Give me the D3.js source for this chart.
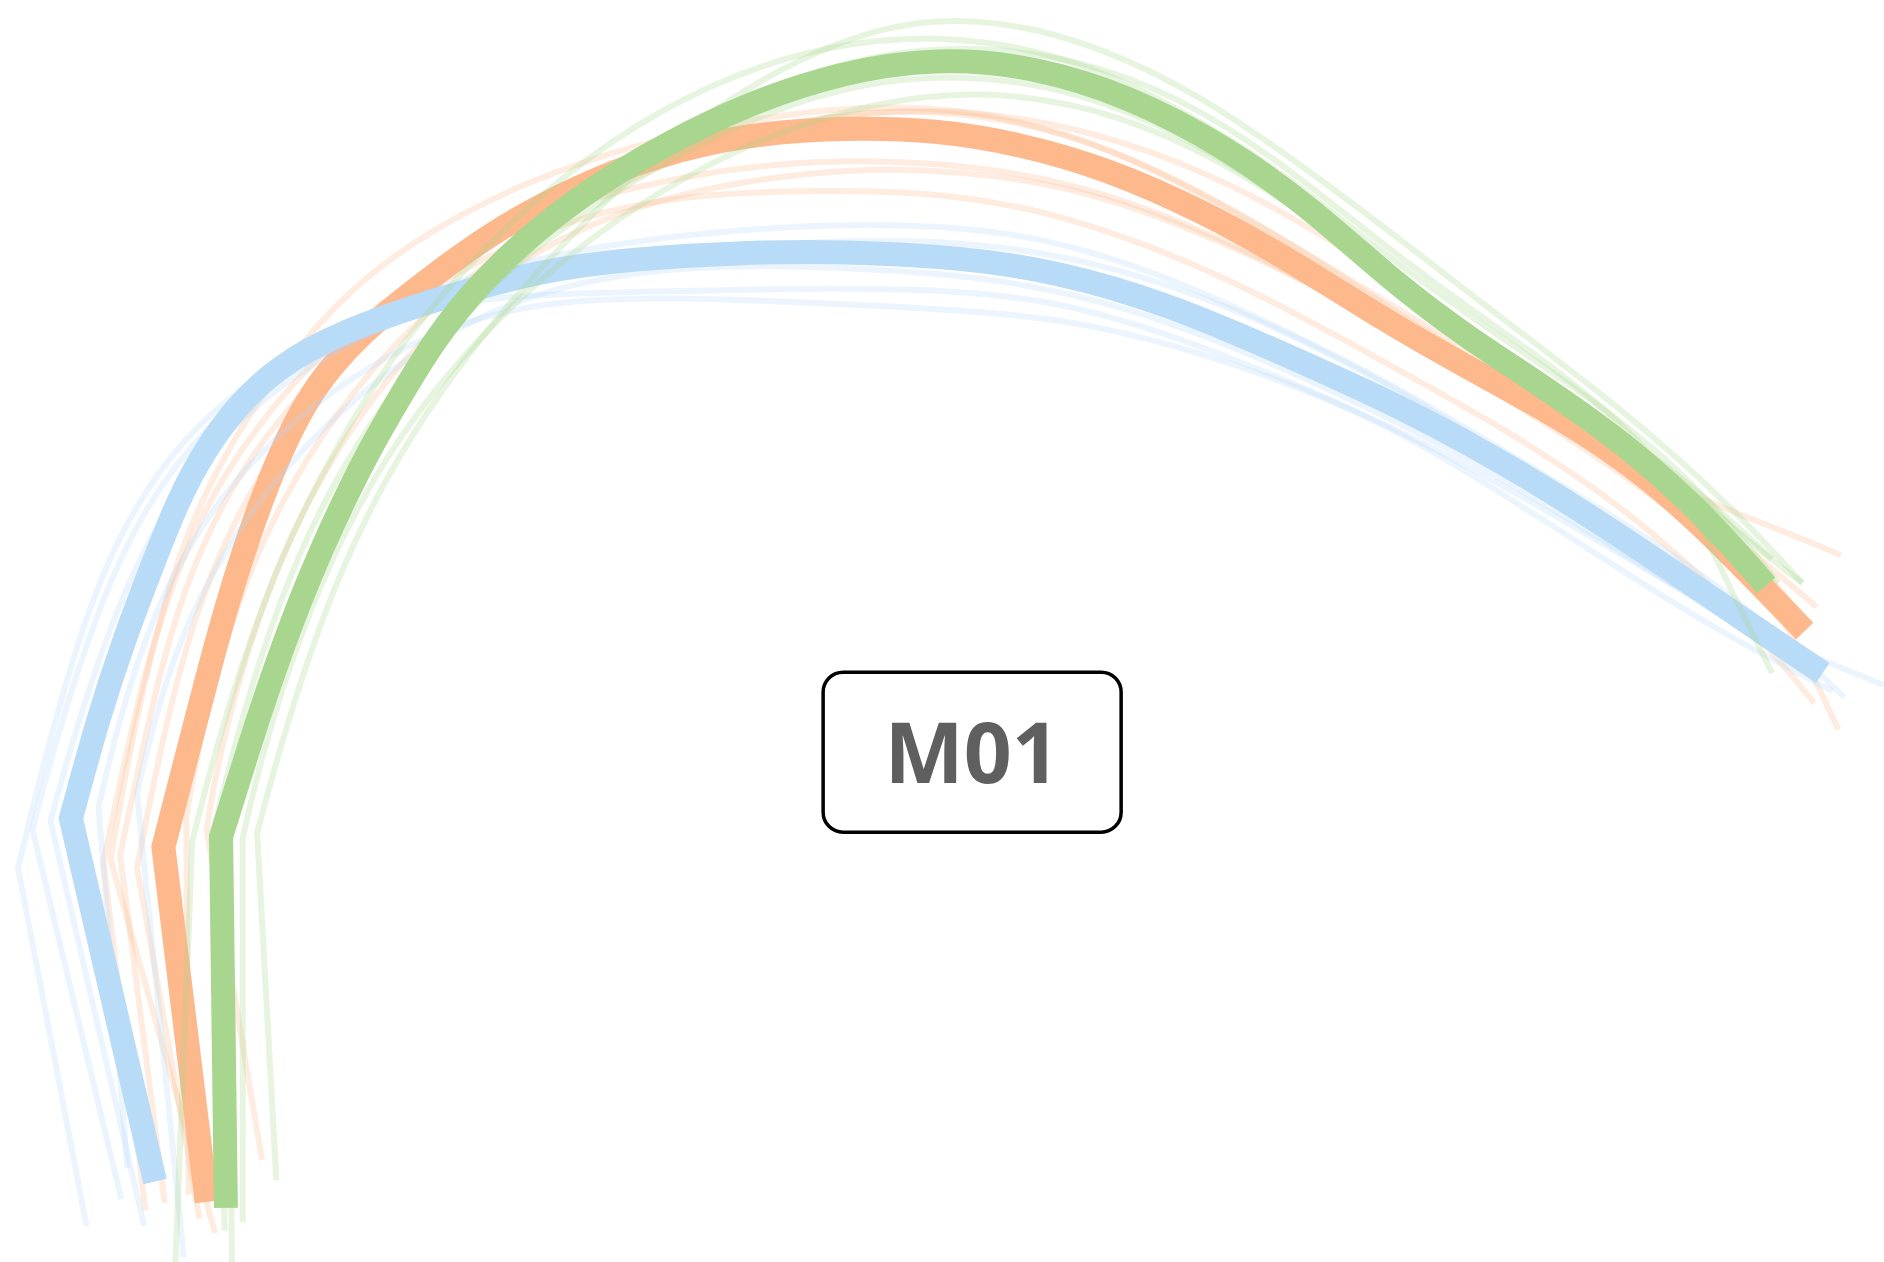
<!DOCTYPE html>
<html>
<head>
<meta charset="utf-8">
<script src="https://cdn.jsdelivr.net/npm/d3@7"></script>
<style>
  html, body { margin: 0; padding: 0; background: #ffffff; }
  svg { display: block; }
</style>
</head>
<body>
<svg id="chart" width="1884" height="1262"></svg>
<script>
// Trajectories: [x, depth] pairs. The first pair is the start point, the
// second is the knee; everything after the knee is a smooth path.

// Blue group
const blueMain = [[12.9,98.3],[5.9,68.1],[8.2,59.6],[10.4,53.0],[12.5,47.5],[14.8,41.6],[17.0,37.5],[19.7,33.8],[23.0,30.6],[28.3,27.6],[36.6,24.8],[44.9,22.5],[53.0,21.5],[62.0,21.0],[70.0,20.9],[80.0,21.4],[88.0,22.6],[97.0,25.2],[107.0,29.5],[117.0,34.0],[127.0,39.5],[137.0,46.0],[145.0,51.5],[151.7,56.0]];
const blueRuns = [
  [[7.2,102.0],[1.5,72.2],[3.5,64.0],[6.5,53.0],[10.0,44.0],[15.0,36.5],[21.5,31.0],[30.0,26.5],[40.0,22.5],[52.0,20.0],[65.0,18.8],[76.0,18.6],[86.0,19.5],[96.0,22.5],[106.0,27.0],[116.0,32.0],[126.0,38.0],[136.0,44.0],[145.0,50.0],[153.5,58.0]],
  [[10.1,99.8],[2.7,69.0],[4.8,61.0],[8.0,51.0],[12.0,42.0],[17.5,35.0],[24.5,29.5],[33.0,25.8],[43.0,24.5],[53.0,24.3],[65.0,24.0],[78.0,24.0],[88.0,25.0],[98.0,28.0],[108.0,32.0],[118.0,36.5],[128.0,42.0],[138.0,48.0],[146.8,53.0],[156.8,57.0]],
  [[12.0,102.0],[4.2,68.3],[6.2,61.0],[9.5,51.0],[13.5,42.5],[19.0,35.5],[26.0,30.0],[34.0,26.2],[44.0,23.0],[56.0,21.0],[68.0,20.0],[80.0,20.0],[90.0,21.5],[100.0,24.5],[110.0,29.0],[120.0,34.5],[130.0,41.0],[140.0,48.0],[149.0,54.8]],
  [[10.6,97.2],[8.2,67.2],[9.5,61.5],[12.0,53.0],[15.5,45.5],[20.5,38.5],[28.0,32.0],[36.0,27.5],[45.0,25.0],[56.0,24.7],[68.0,25.2],[80.0,25.8],[88.0,26.5],[96.0,28.2],[105.0,31.0],[115.0,35.0],[125.0,41.0],[135.0,47.5],[143.0,52.5],[152.5,57.5]],
  [[15.3,104.6],[11.4,66.0],[12.8,60.0],[15.0,53.0],[18.5,46.0],[23.5,39.0],[30.0,32.5],[38.0,27.0],[47.0,23.5],[58.0,22.0],[70.0,22.2],[82.0,23.0],[92.0,25.0],[102.0,28.5],[112.0,33.0],[122.0,38.0],[132.0,44.0],[142.0,50.5],[150.5,55.5]]
];

// Orange group
const orangeMain = [[17.2,100.0],[13.6,70.5],[15.0,65.0],[16.3,60.0],[17.6,55.0],[18.9,50.3],[20.3,45.8],[21.8,41.5],[23.5,37.3],[25.4,33.5],[27.7,30.3],[30.2,27.7],[33.0,25.3],[36.5,22.6],[41.3,19.1],[48.0,15.5],[55.0,12.8],[62.0,11.2],[70.0,10.6],[78.0,10.8],[85.0,12.0],[92.0,14.0],[100.0,17.5],[108.0,22.0],[115.0,26.5],[122.0,30.5],[130.0,34.8],[137.0,39.5],[143.0,45.0],[150.2,52.5]];
const orangeRuns = [
  [[12.1,100.7],[8.6,71.7],[10.0,65.0],[12.0,56.0],[14.8,47.0],[18.5,39.5],[24.0,32.0],[31.0,25.5],[39.0,20.5],[47.0,17.0],[56.0,14.8],[65.0,13.5],[74.0,13.3],[83.0,14.0],[92.0,16.0],[101.0,19.5],[110.0,24.0],[120.0,30.0],[130.0,35.5],[140.0,41.0],[148.0,44.0],[153.2,46.2]],
  [[13.7,100.1],[10.0,71.1],[11.5,64.0],[13.5,55.0],[16.0,47.0],[20.0,39.0],[25.5,32.0],[32.0,26.2],[40.0,21.5],[48.0,18.0],[57.0,16.2],[68.0,15.8],[78.0,16.0],[87.0,17.5],[96.0,20.5],[105.0,24.5],[115.0,30.0],[125.0,35.5],[135.0,42.0],[144.0,50.0],[151.0,58.5]],
  [[15.7,99.4],[15.5,68.0],[16.5,62.0],[18.5,54.0],[21.5,45.5],[25.5,38.0],[30.5,31.0],[37.0,24.5],[44.0,19.5],[52.0,15.0],[60.0,11.8],[69.0,9.5],[78.0,9.0],[87.0,10.0],[96.0,12.5],[105.0,16.5],[114.0,22.0],[123.0,28.0],[132.0,34.0],[141.0,42.0],[148.0,50.0],[153.0,60.7]],
  [[16.6,101.4],[11.4,72.2],[12.8,65.0],[14.8,56.0],[17.5,47.5],[21.5,39.5],[27.0,31.5],[33.0,25.5],[40.0,20.5],[48.0,16.0],[57.0,12.5],[66.0,10.0],[75.0,9.0],[84.0,9.8],[93.0,12.5],[102.0,17.0],[111.0,22.5],[120.0,28.5],[130.0,34.5],[140.0,41.0],[151.2,50.5]],
  [[21.8,96.5],[17.2,69.0],[18.0,64.0],[20.0,56.0],[23.0,47.0],[27.0,39.0],[32.0,31.5],[38.0,25.5],[45.0,20.5],[53.0,17.0],[62.0,15.0],[71.0,14.0],[80.0,14.2],[89.0,15.5],[98.0,18.5],[107.0,22.5],[116.0,27.5],[126.0,33.5],[136.0,40.0],[145.0,47.0],[149.7,50.8]],
  [[17.9,102.6],[9.2,71.5],[10.5,64.0],[12.5,54.5],[15.0,45.5],[18.5,38.0],[23.0,31.0],[29.0,24.0],[36.0,19.0],[44.0,15.0],[53.0,12.0],[62.0,10.0],[71.0,8.8],[80.0,9.0],[89.0,11.0],[98.0,15.0],[107.0,20.0],[116.0,25.5],[126.0,31.5],[136.0,38.0],[145.0,45.0],[150.5,52.0]]
];

// Green group
const greenMain = [[18.8,100.5],[18.4,69.6],[19.9,64.8],[21.4,60.0],[23.1,55.0],[25.0,49.9],[26.8,45.6],[28.7,41.5],[30.7,37.5],[33.0,33.5],[36.3,28.0],[40.0,23.5],[44.4,19.3],[49.5,15.5],[55.0,12.2],[62.0,8.7],[70.0,6.0],[78.0,4.8],[86.0,5.5],[94.0,8.0],[102.0,12.2],[109.0,17.2],[116.0,23.5],[122.0,28.0],[129.0,32.5],[136.0,37.5],[142.0,43.0],[147.0,48.7]];
const greenRuns = [
  [[14.6,105.0],[16.0,70.0],[17.5,64.0],[20.0,55.5],[23.5,46.0],[27.5,38.0],[32.0,30.5],[37.5,23.5],[44.0,17.0],[51.0,11.5],[59.0,7.0],[67.0,4.2],[75.0,3.0],[83.0,3.4],[91.0,5.5],[99.0,9.5],[107.0,14.5],[115.0,21.0],[124.0,27.5],[133.0,33.5],[141.0,40.0],[148.0,48.5]],
  [[19.3,105.0],[19.0,70.0],[20.5,64.0],[23.2,55.0],[26.8,45.5],[31.0,37.0],[36.0,29.5],[42.0,22.5],[49.0,16.5],[56.5,11.0],[64.5,7.0],[73.0,4.4],[81.5,3.8],[90.0,5.0],[98.0,8.0],[106.0,13.0],[114.0,19.5],[122.0,25.5],[130.0,31.0],[137.0,37.0],[141.0,42.5],[144.0,49.0],[147.5,56.0]],
  [[18.7,102.4],[17.6,69.8],[19.0,64.0],[21.5,55.0],[25.0,45.5],[29.5,37.0],[35.0,29.5],[41.0,23.5],[48.0,18.0],[56.0,13.0],[64.0,9.2],[72.0,6.8],[80.0,6.2],[88.0,7.2],[96.0,10.0],[104.0,14.5],[112.0,20.5],[120.0,26.5],[129.0,32.5],[138.0,38.5],[146.0,45.5],[150.0,48.5]],
  [[20.2,101.7],[20.2,69.7],[21.5,64.0],[24.0,55.5],[27.5,46.5],[32.0,38.0],[38.0,30.0],[45.0,23.0],[53.0,17.0],[61.0,12.5],[69.0,9.5],[77.0,7.8],[85.0,7.8],[93.0,9.5],[101.0,13.0],[109.0,18.0],[117.0,24.0],[125.0,29.5],[133.0,34.5],[141.0,40.5],[147.5,46.5]],
  [[23.0,98.2],[21.4,69.3],[22.8,64.0],[25.2,56.0],[28.3,47.5],[32.2,39.5],[37.0,32.0],[42.5,25.0],[49.0,18.0],[56.5,11.0],[65.0,5.5],[74.0,1.8],[83.0,1.5],[92.0,4.0],[100.0,8.0],[108.0,13.5],[116.0,19.5],[125.0,26.5],[135.0,34.0],[144.0,42.0],[150.0,48.5]]
];

// Drawn in this order: orange underneath, then blue, then green on top.
const groups = [
  { key: "orange", color: "#fdb88b", main: orangeMain, runs: orangeRuns },
  { key: "blue",   color: "#b8dbf8", main: blueMain,   runs: blueRuns },
  { key: "green",  color: "#a8d68e", main: greenMain,  runs: greenRuns }
];

const labelText = "M01";

const W = 1884, H = 1262;
const svg = d3.select("#chart");

const x = d3.scaleLinear().domain([0, 156.8]).range([0, W]);
const y = d3.scaleLinear().domain([0, 105]).range([0, H]);

const smooth = d3.line()
  .x(d => x(d[0]))
  .y(d => y(d[1]))
  .curve(d3.curveBasis);

// Straight lead-in from the start point to the knee, smooth after that.
function tracePath(pts) {
  const [start, ...rest] = pts;
  return `M${x(start[0])},${y(start[1])}L` + smooth(rest).slice(1);
}

groups.forEach(g => {
  const layer = svg.append("g").attr("class", `group-${g.key}`);

  // Faint individual runs
  layer.selectAll("path.run")
    .data(g.runs)
    .join("path")
    .attr("class", "run")
    .attr("d", tracePath)
    .attr("fill", "none")
    .attr("stroke", g.color)
    .attr("stroke-opacity", 0.27)
    .attr("stroke-width", 6)
    .attr("stroke-linejoin", "miter")
    .attr("stroke-linecap", "butt");

  // Bold representative path
  layer.append("path")
    .datum(g.main)
    .attr("class", "main")
    .attr("d", tracePath)
    .attr("fill", "none")
    .attr("stroke", g.color)
    .attr("stroke-width", 24)
    .attr("stroke-linejoin", "miter")
    .attr("stroke-linecap", "butt");
});

// Centre label
const lbl = svg.append("g").attr("transform", `translate(${W * 0.516},${H * 0.596})`);
lbl.append("rect")
  .attr("x", -149).attr("y", -80)
  .attr("width", 298).attr("height", 160)
  .attr("rx", 20).attr("ry", 20)
  .attr("fill", "#ffffff")
  .attr("stroke", "#000000")
  .attr("stroke-width", 3.5);
lbl.append("text")
  .attr("x", 0).attr("y", 31)
  .attr("text-anchor", "middle")
  .attr("font-family", "'Open Sans', 'Noto Sans', sans-serif")
  .attr("font-weight", 700)
  .attr("font-size", 84)
  .attr("fill", "#5f5f5f")
  .text(labelText);
</script>
</body>
</html>
